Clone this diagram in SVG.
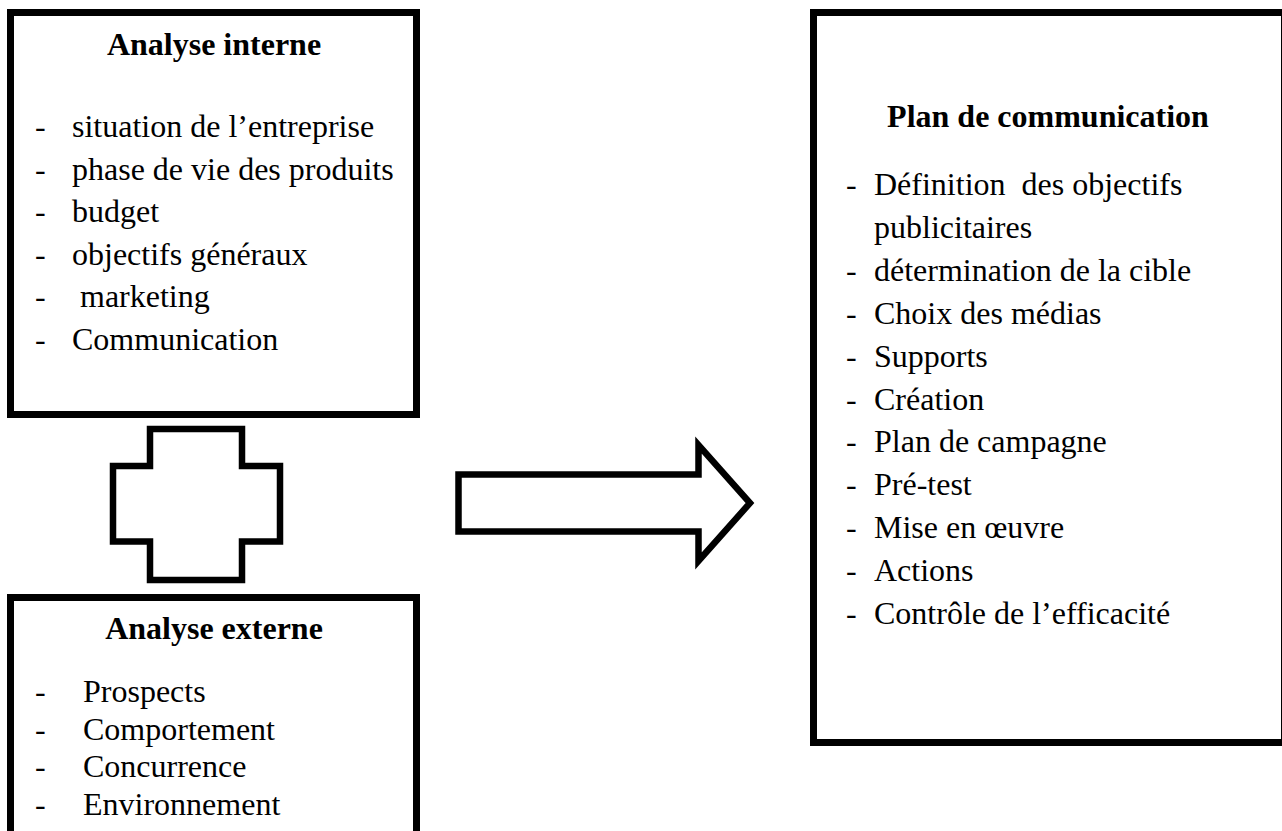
<svg xmlns="http://www.w3.org/2000/svg" width="1282" height="831" viewBox="0 0 1282 831">
<style>
.box{fill:#fff;stroke:#000;stroke-width:7}
.shape{fill:#fff;stroke:#000;stroke-width:6.5;stroke-linejoin:miter}
text{font-family:"Liberation Serif","Times New Roman",serif;font-size:32px;fill:#000}
.title{font-weight:bold;text-anchor:middle}
</style>
<rect width="1282" height="831" fill="#fff"/>
<g id="analyse-interne">
<rect class="box" x="10.5" y="12.5" width="406" height="402"/>
<text class="title" x="214" y="55">Analyse interne</text>
<text x="35" y="137">-</text><text x="72" y="137">situation de l’entreprise</text>
<text x="35" y="179.6">-</text><text x="72" y="179.6">phase de vie des produits</text>
<text x="35" y="222.2">-</text><text x="72" y="222.2">budget</text>
<text x="35" y="264.8">-</text><text x="72" y="264.8">objectifs généraux</text>
<text x="35" y="307.4">-</text><text x="80" y="307.4">marketing</text>
<text x="35" y="350">-</text><text x="72" y="350">Communication</text>
</g>
<g id="analyse-externe">
<rect class="box" x="10.5" y="597.5" width="406" height="250"/>
<text class="title" x="214" y="639">Analyse externe</text>
<text x="35" y="702">-</text><text x="83" y="702">Prospects</text>
<text x="35" y="740">-</text><text x="83" y="740">Comportement</text>
<text x="35" y="777">-</text><text x="83" y="777">Concurrence</text>
<text x="35" y="815">-</text><text x="83" y="815">Environnement</text>
</g>
<g id="plan-communication">
<rect class="box" x="813.5" y="12.5" width="471" height="730"/>
<text class="title" x="1048" y="127">Plan de communication</text>
<text x="846" y="195">-</text><text x="874" y="195" xml:space="preserve">Définition  des objectifs</text>
<text x="874" y="237.9">publicitaires</text>
<text x="846" y="280.8">-</text><text x="874" y="280.8">détermination de la cible</text>
<text x="846" y="323.7">-</text><text x="874" y="323.7">Choix des médias</text>
<text x="846" y="366.6">-</text><text x="874" y="366.6">Supports</text>
<text x="846" y="409.5">-</text><text x="874" y="409.5">Création</text>
<text x="846" y="452.4">-</text><text x="874" y="452.4">Plan de campagne</text>
<text x="846" y="495.3">-</text><text x="874" y="495.3">Pré-test</text>
<text x="846" y="538.2">-</text><text x="874" y="538.2">Mise en œuvre</text>
<text x="846" y="581.1">-</text><text x="874" y="581.1">Actions</text>
<text x="846" y="624">-</text><text x="874" y="624">Contrôle de l’efficacité</text>
</g>
<g id="connectors">
<path id="plus" class="shape" d="M150,429 H242 V466 H280 V541.5 H242 V580 H150 V541.5 H113 V466 H150 Z"/>
<path id="arrow" class="shape" d="M458.5,474.5 H698.5 V445 L750,503 L698.5,561 V531.5 H458.5 Z"/>
</g>
</svg>
